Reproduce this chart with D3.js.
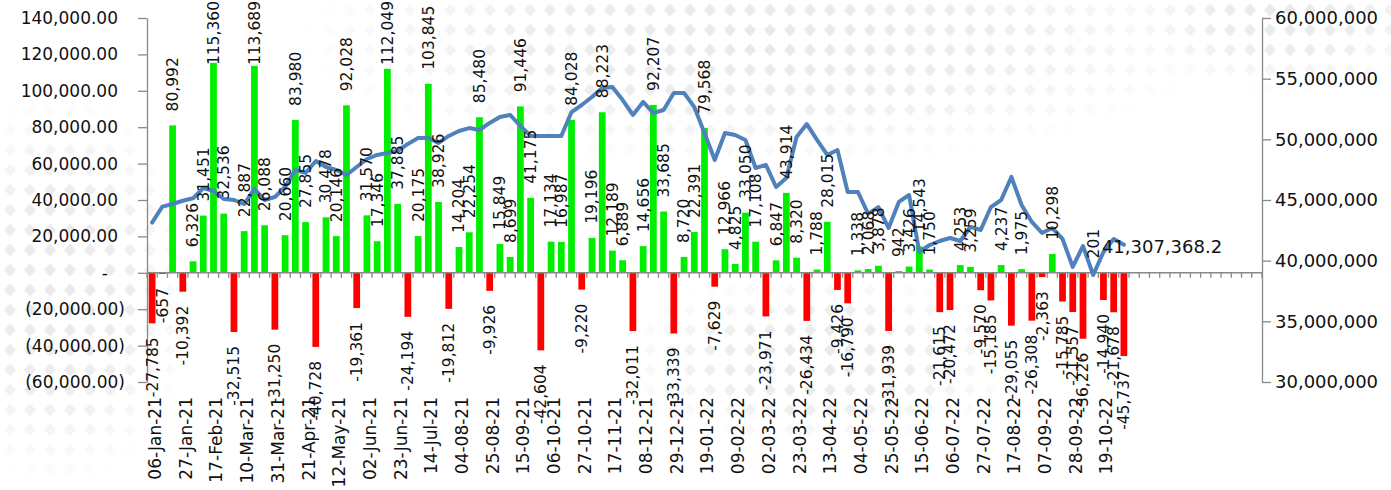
<!DOCTYPE html>
<html>
<head>
<meta charset="utf-8">
<script src="https://cdn.jsdelivr.net/npm/d3@7"></script>
<style>
  body { margin: 0; background: #fff; }
  svg text { font-family: "DejaVu Sans", sans-serif; fill: #111; }
</style>
</head>
<body>
<div id="chart"></div>
<script>
// weekly change, left axis (one value per week, starting 06-Jan-21)
const weeklyChange = [
  -27785, -657, 80992, -10392, 6326, 31451, 115360, 32536, -32515, 22887,
  113689, 26088, -31250, 20660, 83980, 27855, -40728, 30478, 20146, 92028,
  -19361, 31570, 17346, 112049, 37885, -24194, 20175, 103845, 38926, -19812,
  14204, 22254, 85480, -9926, 15849, 8699, 91446, 41175, -42604, 17134,
  16987, 84028, -9220, 19196, 88223, 12189, 6889, -32011, 14656, 92207,
  33685, -33339, 8720, 22391, 79568, -7629, 12966, 4825, 33050, 17108,
  -23971, 6847, 43914, 8320, -26434, 1788, 28015, -9426, -16790, 1338,
  2068, 3878, -31939, 942, 3426, 14543, 1750, -21615, -20472, 4253,
  3259, -9570, -15185, 4237, -29055, 1975, -26308, -2363, 10298, -15785,
  -21557, -36226, 201, -14940, -21678, -45737
];

// running balance, right axis, in millions
const balanceMillions = [
  43.13, 44.45, 44.67, 44.94, 45.14, 45.99, 45.74, 45.08, 45.00, 44.67,
  45.91, 45.00, 45.25, 46.07, 47.47, 47.23, 48.21, 47.72, 47.47, 47.06,
  47.72, 48.38, 48.71, 48.87, 49.04, 49.62, 50.11, 50.11, 49.70, 50.28,
  50.69, 50.93, 50.77, 51.35, 51.84, 52.01, 51.10, 50.28, 50.28, 50.28,
  50.28, 52.25, 52.83, 53.49, 54.23, 54.31, 53.24, 52.01, 53.08, 52.17,
  52.42, 53.82, 53.82, 52.67, 50.52, 48.30, 50.52, 50.36, 49.95, 47.64,
  47.89, 46.07, 46.81, 50.19, 51.26, 49.95, 48.71, 49.12, 45.66, 45.66,
  43.85, 44.42, 42.69, 44.84, 45.41, 40.71, 41.29, 41.62, 41.87, 41.62,
  42.78, 42.53, 44.42, 45.00, 46.90, 44.59, 43.19, 42.28, 42.69, 41.79,
  39.48, 41.21, 38.82, 40.71, 41.79, 41.3073682
];
const lastBalanceLabel = "41,307,368.2";

// category axis labels, shown every third week
const tickLabels = [
  "06-Jan-21", "27-Jan-21", "17-Feb-21", "10-Mar-21", "31-Mar-21", "21-Apr-21",
  "12-May-21", "02-Jun-21", "23-Jun-21", "14-Jul-21", "04-08-21", "25-08-21",
  "15-09-21", "06-10-21", "27-10-21", "17-11-21", "08-12-21", "29-12-21",
  "19-01-22", "09-02-22", "02-03-22", "23-03-22", "13-04-22", "04-05-22",
  "25-05-22", "15-06-22", "06-07-22", "27-07-22", "17-08-22", "07-09-22",
  "28-09-22", "19-10-22"
];
const tickEvery = 3;
const totalWeeks = 109; // axis keeps empty weeks after the data

const leftTicks = [-60000, -40000, -20000, 0, 20000, 40000, 60000, 80000, 100000, 120000, 140000];
const rightTicks = [30, 35, 40, 45, 50, 55, 60];

//==============================================================================

const width = 1391, height = 490;
const plot = { left: 147, right: 1262, top: 18, bottom: 382 };
const axisGrey = "#898989";

// plain hyphen for negatives, like the spreadsheet
const locale = d3.formatLocale({ decimal: ".", thousands: ",", grouping: [3], currency: ["", ""], minus: "-" });
const fmt0 = locale.format(",");
const fmt2 = locale.format(",.2f");

const svg = d3.select("#chart").append("svg")
    .attr("width", width)
    .attr("height", height);

// faint diamond watermark in the background
const defs = svg.append("defs");
const pat = defs.append("pattern")
    .attr("id", "diamonds")
    .attr("width", 20).attr("height", 20)
    .attr("patternUnits", "userSpaceOnUse");
pat.append("path")
    .attr("d", "M10,3.5 L16,10 L10,16.5 L4,10 Z")
    .attr("fill", "#e6e6e6");

const grad = defs.append("radialGradient").attr("id", "fade");
grad.append("stop").attr("offset", "0%").attr("stop-color", "#fff").attr("stop-opacity", 0.9);
grad.append("stop").attr("offset", "50%").attr("stop-color", "#fff").attr("stop-opacity", 0.7);
grad.append("stop").attr("offset", "100%").attr("stop-color", "#fff").attr("stop-opacity", 0);

const mask = defs.append("mask").attr("id", "wmMask");
const blobs = [
  { cx: 60, cy: 290, rx: 140, ry: 200 },
  { cx: 760, cy: 40, rx: 470, ry: 130 },
  { cx: 1290, cy: 15, rx: 160, ry: 80 },
  { cx: 820, cy: 360, rx: 210, ry: 90 }
];
mask.selectAll("ellipse").data(blobs).join("ellipse")
    .attr("cx", d => d.cx).attr("cy", d => d.cy)
    .attr("rx", d => d.rx).attr("ry", d => d.ry)
    .attr("fill", "url(#fade)");

svg.append("rect")
    .attr("width", width).attr("height", height)
    .attr("fill", "url(#diamonds)")
    .attr("mask", "url(#wmMask)");

// scales
const x = d3.scaleBand()
    .domain(d3.range(totalWeeks))
    .range([plot.left, plot.right])
    .paddingInner(0.34)
    .paddingOuter(0.17);
const bw = x.bandwidth();
const cx = i => x(i) + bw / 2;

const yL = d3.scaleLinear().domain([-60000, 140000]).range([plot.bottom, plot.top]);
const yR = d3.scaleLinear().domain([30, 60]).range([plot.bottom, plot.top]);

// left axis, accounting style labels
const gL = svg.append("g")
    .attr("transform", `translate(${plot.left},0)`)
    .call(d3.axisLeft(yL).tickValues(leftTicks).tickSize(9).tickSizeOuter(0)
      .tickFormat(d => d > 0 ? fmt2(d) : d < 0 ? "(" + fmt2(-d) + ")" : "-"));
gL.selectAll("path, line").attr("stroke", axisGrey).attr("stroke-width", 1.3);
gL.selectAll("text")
    .attr("font-size", 17)
    .attr("x", d => d > 0 ? -29 : d < 0 ? -22 : -39);

// right axis
const gR = svg.append("g")
    .attr("transform", `translate(${plot.right},0)`)
    .call(d3.axisRight(yR).tickValues(rightTicks).tickSize(9).tickSizeOuter(0)
      .tickFormat(d => fmt0(d * 1e6)));
gR.selectAll("path, line").attr("stroke", axisGrey).attr("stroke-width", 1.3);
gR.selectAll("text").attr("font-size", 18).attr("x", 13);

// bars
const bars = svg.append("g");
bars.selectAll("rect")
  .data(weeklyChange)
  .join("rect")
    .attr("x", (d, i) => x(i))
    .attr("width", bw)
    .attr("y", d => Math.min(yL(d), yL(0)))
    .attr("height", d => Math.abs(yL(d) - yL(0)))
    .attr("fill", d => d >= 0 ? "#00ee00" : "#ff0000");

// category axis on the zero line, ticks between weeks
const zeroY = yL(0);
svg.append("line")
    .attr("x1", plot.left).attr("x2", plot.right)
    .attr("y1", zeroY).attr("y2", zeroY)
    .attr("stroke", axisGrey).attr("stroke-width", 1.6);
svg.append("g").selectAll("line")
  .data(d3.range(totalWeeks + 1))
  .join("line")
    .attr("x1", i => plot.left + i * x.step())
    .attr("x2", i => plot.left + i * x.step())
    .attr("y1", zeroY).attr("y2", zeroY + 5)
    .attr("stroke", axisGrey).attr("stroke-width", 1.3);

svg.append("g").selectAll("text")
  .data(tickLabels)
  .join("text")
    .attr("transform", (d, k) => `translate(${cx(k * tickEvery) + 3},${plot.bottom + 15}) rotate(-90)`)
    .attr("text-anchor", "end")
    .attr("dy", "0.35em")
    .attr("font-size", 17)
    .text(d => d);

// balance line
const line = d3.line()
    .x((d, i) => cx(i))
    .y(d => yR(d));
svg.append("path")
    .datum(balanceMillions)
    .attr("d", line)
    .attr("fill", "none")
    .attr("stroke", "#4f81bd")
    .attr("stroke-width", 4)
    .attr("stroke-linejoin", "round")
    .attr("stroke-linecap", "round");

// bar value labels
const labels = svg.append("g").selectAll("text")
  .data(weeklyChange)
  .join("text")
    .attr("font-size", 15.5)
    .attr("dy", "0.35em")
    .attr("text-anchor", d => d >= 0 ? "start" : "end")
    .text(d => fmt0(d));
labels.attr("transform", function(d, i) {
  let y = d >= 0 ? yL(d) - 14 : yL(d) + 14;
  if (d >= 0) {
    const len = this.getComputedTextLength();
    if (y - len < 1) y = len + 1;
  }
  return `translate(${cx(i)},${y}) rotate(-90)`;
});

// last point label
const last = balanceMillions.length - 1;
svg.append("text")
    .attr("x", cx(last) - 22)
    .attr("y", yR(balanceMillions[last]) + 2)
    .attr("dy", "0.35em")
    .attr("font-size", 18)
    .text(lastBalanceLabel);
</script>
</body>
</html>
